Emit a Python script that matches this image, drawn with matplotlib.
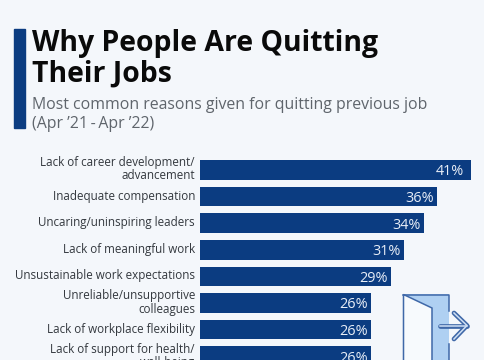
import matplotlib
matplotlib.use('Agg')
import matplotlib.pyplot as plt
from matplotlib.patches import Polygon, Rectangle

# Values
reasons = ['Lack of career development/\nadvancement', 'Inadequate compensation',
           'Uncaring/uninspiring leaders', 'Lack of meaningful work',
           'Unsustainable work expectations', 'Unreliable/unsupportive\ncolleagues',
           'Lack of workplace flexibility', 'Lack of support for health/\nwell-being']
shares = [41, 36, 34, 31, 29, 26, 26, 26]

W, H = 485, 360
bg = '#f4f7fb'
navy = '#0b3c81'
plt.rcParams['font.family'] = ['Open Sans', 'DejaVu Sans']

fig = plt.figure(figsize=(W / 100, H / 100), dpi=100, facecolor=bg)

# Bars: scale set so 0 sits at x=199.5px and each row is 26.6px high
ax = fig.add_axes([0, 0, 1, 1])
px_per_pct = 271 / 41
row_h = 26.6
ax.set_xlim(-199.5 / px_per_pct, (W - 199.5) / px_per_pct)
ax.set_ylim((H - 170) / row_h, -170 / row_h)
ax.axis('off')
ax.barh(range(len(shares)), shares, height=0.74, color=navy)
for i, (reason, share) in enumerate(zip(reasons, shares)):
    # the top label sits further in from the bar end than the others
    inset = -7 if i == 0 else -3.5
    ax.annotate(f'{share}%', (share, i), xytext=(inset, 0), textcoords='offset pixels',
                color='#e8eef7', fontsize=10.4, ha='right', va='center_baseline')
    ax.annotate(reason, (0, i), xytext=(-4.5, 0.5), textcoords='offset pixels', ha='right',
                va='center', ma='right', fontsize=8.4, color='#33383e', linespacing=1.0,
                annotation_clip=False)

# Overlay in pixel coordinates for header and door
ov = fig.add_axes([0, 0, 1, 1])
ov.set_xlim(0, W)
ov.set_ylim(H, 0)
ov.axis('off')
ov.patch.set_alpha(0)

ov.add_patch(Rectangle((14.5, 29), 11, 99, color=navy))
ov.text(32.5, 50.5, 'Why People Are Quitting', fontsize=20.45, fontweight='bold', color='#0a0a0a', va='baseline')
ov.text(32.5, 81.5, 'Their Jobs', fontsize=20.45, fontweight='bold', color='#0a0a0a', va='baseline')
ov.text(32.5, 109, 'Most common reasons given for quitting previous job', fontsize=11.45, color='#5f656c', va='baseline')
ov.text(32.5, 128, "(Apr ’21\u2009-\u2009Apr ’22)", fontsize=11.45, color='#5f656c', va='baseline')

# Door icon
door_blue = '#3f68a8'
ov.add_patch(Rectangle((404, 294), 45, 70, facecolor='#afd0f2', edgecolor='none'))
ov.add_patch(Polygon([(403.5, 294.5), (432, 308), (432, 364), (403.5, 364)], facecolor='#f7fafd',
                     edgecolor=door_blue, lw=1.1))
ov.plot([403.5, 449, 449], [294.5, 294.5, 311], color=door_blue, lw=1.1)
ov.plot([449, 449], [344, 362], color=door_blue, lw=1.1)
ov.plot([440, 467], [326, 326], color=door_blue, lw=3.4, solid_capstyle='round')
ov.plot([454, 467, 454], [313, 325.5, 339], color=door_blue, lw=3.4, solid_capstyle='round')
ov.plot([440, 467], [326, 326], color='#cfe0f4', lw=1.1)
ov.plot([454, 467, 454], [313, 325.5, 339], color='#cfe0f4', lw=1.1)

fig.savefig('out.png', dpi=100, facecolor=bg)
